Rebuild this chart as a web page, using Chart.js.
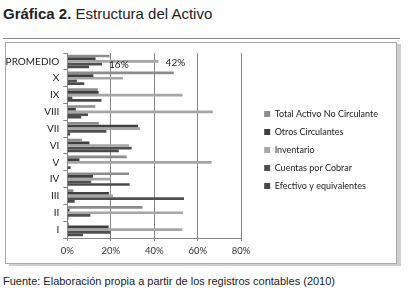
<!DOCTYPE html>
<html>
<head>
<meta charset="utf-8">
<script src="https://cdn.jsdelivr.net/npm/chart.js@4.4.1/dist/chart.umd.min.js"></script>
<style>
  body { margin: 0; background: #fff; width: 409px; height: 295px; position: relative; overflow: hidden; }
  #titulo { position: absolute; left: 3px; top: 5px; font: 15px "Liberation Sans", Arial, sans-serif; color: #222; white-space: nowrap; }
  #regla { position: absolute; left: 3px; top: 38px; width: 397px; height: 1px; background: #8a8a8a; }
  #marco { position: absolute; left: 5px; top: 42px; width: 390px; height: 220px; border: 1px solid #a8a8a8; box-shadow: 4px 2px 0 #cfcfcf; }
  #fuente { position: absolute; left: 3px; top: 275px; font: 11px "Liberation Sans", Arial, sans-serif; color: #222; white-space: nowrap; }
</style>
</head>
<body>
<div id="titulo"><b>Gráfica 2.</b> Estructura del Activo</div>
<div id="regla"></div>
<div id="marco"><canvas id="myChart" width="390" height="220"></canvas></div>
<div id="fuente">Fuente: Elaboración propia a partir de los registros contables (2010)</div>
<script>
// categorias (de arriba hacia abajo) y valores en %
var categorias = ['PROMEDIO', 'X', 'IX', 'VIII', 'VII', 'VI', 'V', 'IV', 'III', 'II', 'I'];
var totalActivoNoCirculante = [19.5, 49, 14, 12.9, 14.5, 6.7, 27.3, 28.4, 2.8, 34.6, 0.8];
var otrosCirculantes = [13, 12, 14.4, 3.9, 32.5, 10.2, 5.6, 11.8, 19.2, 1, 19];
var inventario = [42, 25.6, 53, 67, 33.5, 28.4, 66.4, 19.9, 21, 53.2, 52.9];
var cuentasPorCobrar = [16, 4.4, 2.3, 9.5, 18, 29.6, 0, 11, 53.7, 10.6, 20];
var efectivo = [10, 7.8, 15.7, 6.4, 1.3, 23.7, 1.5, 28.7, 3.4, 0.5, 7.2];
var ticksX = [0, 20, 40, 60, 80];

var fuente = 'Lato, "Liberation Sans", sans-serif';

// etiquetas de datos solo para el promedio de inventario y cuentas por cobrar
var etiquetas = {
  id: 'etiquetas',
  afterDatasetsDraw: function(chart) {
    var c = chart.ctx;
    c.save();
    c.font = '10px ' + fuente;
    c.fillStyle = '#222';
    c.textBaseline = 'middle';
    [2, 3].forEach(function(i) {
      var bar = chart.getDatasetMeta(i).data[0];
      var v = chart.data.datasets[i].data[0];
      c.fillText(Math.round(v) + '%', bar.x + 7, bar.y + 1);
    });
    c.restore();
  }
};

// mueve la leyenda a la derecha y un poco hacia arriba, como en la figura
var moverLeyenda = {
  id: 'moverLeyenda',
  afterLayout: function(chart) {
    chart.legend.left += 14;
    chart.legend.right += 14;
    chart.legend.top -= 7;
    chart.legend.bottom -= 7;
  }
};

var ctx = document.getElementById('myChart').getContext('2d');
var chart = new Chart(ctx, {
  type: 'bar',
  data: {
    labels: categorias,
    datasets: [
      { label: 'Total Activo No Circulante', data: totalActivoNoCirculante, backgroundColor: '#8c8c8c' },
      { label: 'Otros Circulantes', data: otrosCirculantes, backgroundColor: '#404040' },
      { label: 'Inventario', data: inventario, backgroundColor: '#a6a6a6' },
      { label: 'Cuentas por Cobrar', data: cuentasPorCobrar, backgroundColor: '#505050' },
      { label: 'Efectivo y equivalentes', data: efectivo, backgroundColor: '#4a4a4a' }
    ]
  },
  options: {
    indexAxis: 'y',
    responsive: false,
    animation: false,
    layout: { padding: { top: 8, right: 22, bottom: 0, left: 0 } },
    datasets: { bar: { categoryPercentage: 0.8, barPercentage: 1.0 } },
    scales: {
      x: {
        min: 0, max: 80,
        afterBuildTicks: function(s) { s.ticks = ticksX.map(function(v) { return { value: v }; }); },
        afterFit: function(s) { s.height = 25; },
        grid: { color: '#858585', tickLength: 3 },
        border: { color: '#858585' },
        ticks: { padding: 4, color: '#333', font: { family: fuente, size: 9.5 }, callback: function(v) { return v + '%'; } }
      },
      y: {
        afterFit: function(s) { s.width = 61.3; },
        grid: { drawOnChartArea: false, offset: true, tickLength: 4, color: '#858585' },
        border: { color: '#858585' },
        ticks: { padding: 4, color: '#222', font: { family: fuente, size: 10 } }
      }
    },
    plugins: {
      tooltip: { enabled: false },
      legend: {
        position: 'right',
        maxWidth: 250,
        labels: { boxWidth: 6, boxHeight: 6, padding: 9, color: '#222', font: { family: fuente, size: 9 } }
      }
    }
  },
  plugins: [etiquetas, moverLeyenda]
});
</script>
</body>
</html>
